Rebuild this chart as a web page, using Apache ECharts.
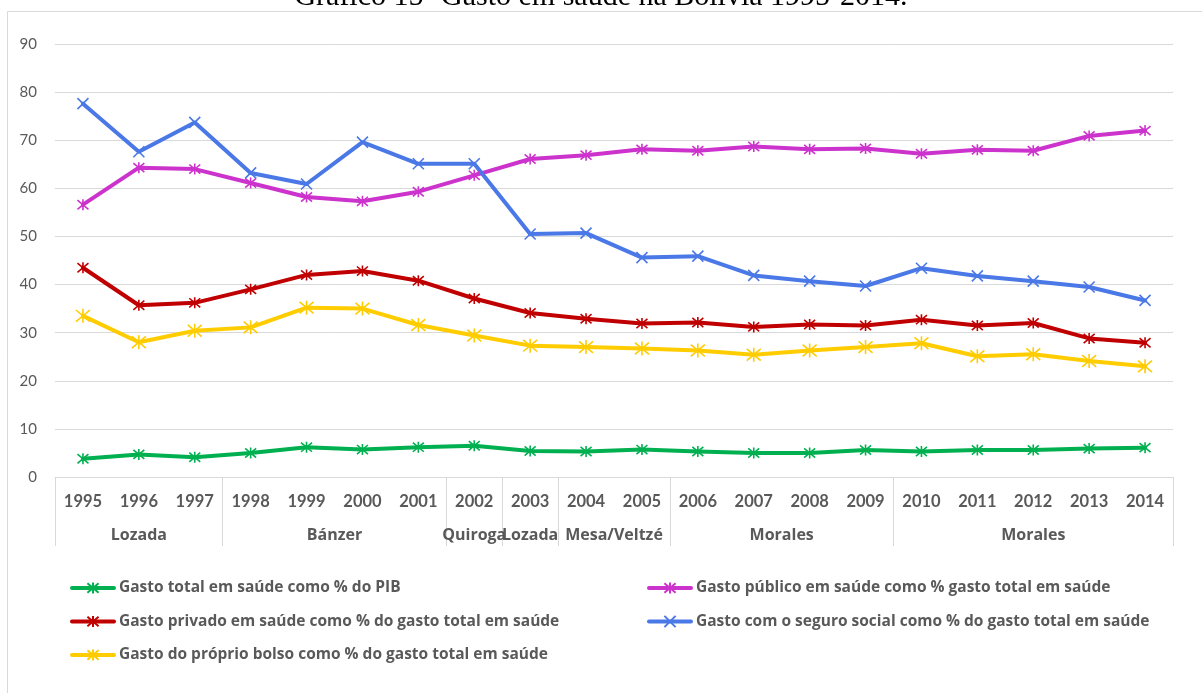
<!DOCTYPE html>
<html>
<head>
<meta charset="utf-8">
<script src="https://cdn.jsdelivr.net/npm/echarts@6/dist/echarts.min.js"></script>
<style>
  html, body { margin: 0; padding: 0; background: #ffffff; }
  #chart { width: 1202px; height: 693px; }
</style>
</head>
<body>
<div id="chart"></div>
<script>
// Anos do período
var years = ['1995','1996','1997','1998','1999','2000','2001','2002','2003','2004',
             '2005','2006','2007','2008','2009','2010','2011','2012','2013','2014'];

// Governos e número de anos de cada um
var govNames = ['Lozada','Bánzer','Quiroga','Lozada','Mesa/Veltzé','Morales','Morales'];
var govSpans = [3, 4, 1, 1, 2, 4, 5];

var yTicks = [0, 10, 20, 30, 40, 50, 60, 70, 80, 90];

// Séries (%)
var totalPIB = [3.8, 4.7, 4.1, 5.0, 6.2, 5.7, 6.2, 6.5, 5.4, 5.3, 5.7, 5.3, 5.0, 5.0, 5.6, 5.3, 5.6, 5.6, 5.9, 6.1];
var publico  = [56.6, 64.3, 64.0, 61.1, 58.2, 57.3, 59.3, 62.7, 66.1, 66.9, 68.1, 67.8, 68.7, 68.1, 68.3, 67.2, 68.0, 67.8, 70.9, 72.0];
var privado  = [43.5, 35.7, 36.2, 39.0, 42.0, 42.8, 40.8, 37.1, 34.1, 32.9, 31.9, 32.1, 31.2, 31.7, 31.5, 32.7, 31.5, 32.0, 28.8, 27.9];
var seguro   = [77.6, 67.6, 73.7, 63.2, 60.9, 69.6, 65.1, 65.1, 50.5, 50.7, 45.6, 45.9, 41.9, 40.7, 39.7, 43.4, 41.8, 40.7, 39.5, 36.7];
var bolso    = [33.5, 28.0, 30.4, 31.1, 35.2, 35.0, 31.6, 29.4, 27.3, 27.0, 26.7, 26.3, 25.4, 26.3, 27.0, 27.8, 25.1, 25.5, 24.1, 23.0];

var names = [
  'Gasto total em saúde como % do PIB',
  'Gasto público em saúde como % gasto total em saúde',
  'Gasto privado em saúde como % do gasto total em saúde',
  'Gasto com o seguro social como % do gasto total em saúde',
  'Gasto do próprio bolso como % do gasto total em saúde'
];

// Limites e centros dos grupos de governo no eixo secundário
var bounds = [0], centers = [];
govSpans.forEach(function (s) {
  var start = bounds[bounds.length - 1];
  centers.push(start + s / 2);
  bounds.push(start + s);
});

var STAR = 'path://M0,0L10,10M10,0L0,10M5,-1L5,11';
var CROSS = 'path://M0,0L10,10M10,0L0,10';
var GREY = '#595959';

function mkSeries(name, data, color, symbol, size) {
  return {
    name: name,
    type: 'line',
    data: data,
    xAxisIndex: 0,
    symbol: symbol,
    symbolSize: size,
    showAllSymbol: true,
    lineStyle: { width: 4, color: color, cap: 'round', join: 'round' },
    itemStyle: { color: 'rgba(0,0,0,0)', borderColor: color, borderWidth: 1.6 },
    emphasis: { disabled: true },
    animation: false
  };
}

var legendText = { fontFamily: 'Open Sans', fontSize: 15.5, fontWeight: 'bold', color: GREY };
var legendLine = { width: 4, cap: 'round' };

var chart = echarts.init(document.getElementById('chart'), null, { renderer: 'canvas' });

chart.setOption({
  backgroundColor: '#ffffff',
  animation: false,
  title: {
    text: 'Gráfico 15- Gasto em saúde na Bolívia 1995-2014.',
    left: 'center',
    top: -23,
    textStyle: { fontFamily: 'Liberation Serif', fontSize: 30, fontWeight: 'normal', color: '#000000' }
  },
  graphic: [{
    type: 'rect',
    shape: { x: 7.5, y: 11.5, width: 1230, height: 720 },
    style: { fill: null, stroke: '#d9d9d9', lineWidth: 1 },
    silent: true
  }],
  grid: { left: 55, right: 29, top: 44, bottom: 216, containLabel: false },
  legend: [{
    data: [names[0], names[2], names[4]],
    orient: 'vertical',
    left: 65, top: 575,
    itemWidth: 42, itemHeight: 14, itemGap: 17.5,
    lineStyle: legendLine,
    textStyle: legendText,
    selectedMode: false
  }, {
    data: [names[1], names[3]],
    orient: 'vertical',
    left: 642, top: 575,
    itemWidth: 42, itemHeight: 14, itemGap: 17.5,
    lineStyle: legendLine,
    textStyle: legendText,
    selectedMode: false
  }],
  xAxis: [{
    type: 'category',
    data: years,
    boundaryGap: true,
    axisLine: { show: true, lineStyle: { color: '#d9d9d9', width: 1 } },
    axisTick: { show: false },
    axisLabel: { margin: 16, fontFamily: 'Lato', fontSize: 16.5, fontWeight: 'bold', color: GREY, interval: 0 },
    splitLine: { show: false }
  }, {
    type: 'value',
    min: 0, max: years.length,
    position: 'bottom',
    axisLine: { show: false },
    axisTick: { show: true, customValues: bounds, length: 69, lineStyle: { color: '#d9d9d9', width: 1 } },
    axisLabel: {
      customValues: centers,
      margin: 50,
      fontFamily: 'Open Sans', fontSize: 16, fontWeight: 'bold', color: GREY,
      formatter: function (v) {
        var i = centers.indexOf(v);
        return i >= 0 ? govNames[i] : '';
      }
    },
    splitLine: { show: false }
  }],
  yAxis: {
    type: 'value',
    min: yTicks[0], max: yTicks[yTicks.length - 1], interval: 10,
    axisLine: { show: false },
    axisTick: { show: false },
    axisLabel: { margin: 18, fontFamily: 'Lato', fontSize: 15, color: GREY },
    splitLine: { lineStyle: { color: '#d9d9d9', width: 1 } }
  },
  series: [
    mkSeries(names[0], totalPIB, '#00b050', STAR, 11),
    mkSeries(names[1], publico, '#cc33cc', STAR, 11),
    mkSeries(names[2], privado, '#c00000', STAR, 11),
    mkSeries(names[3], seguro, '#4a78e6', CROSS, 11),
    mkSeries(names[4], bolso, '#ffcc00', STAR, 14)
  ]
});
</script>
</body>
</html>
